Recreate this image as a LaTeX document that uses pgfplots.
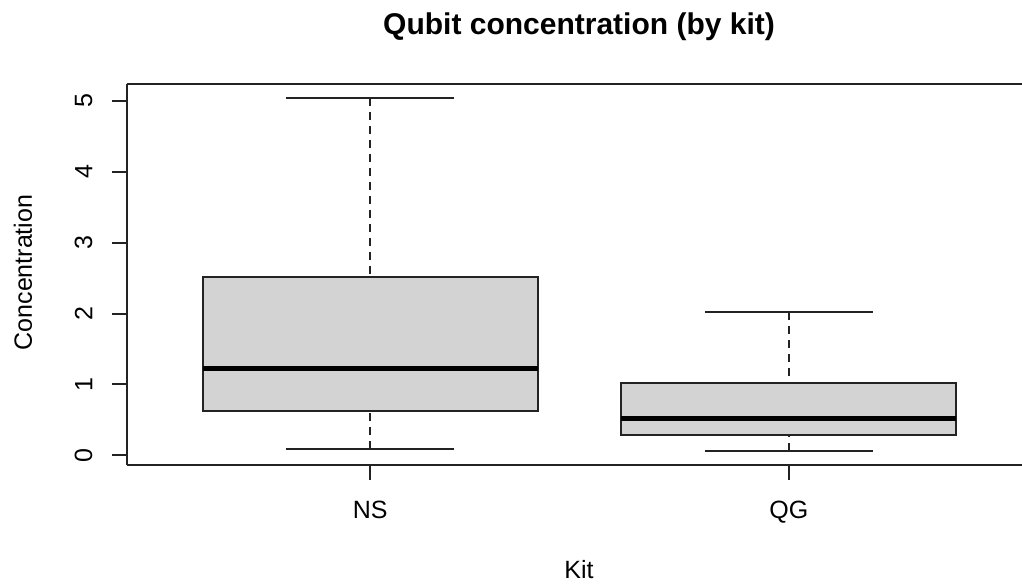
\documentclass[border=0pt]{standalone}
\usepackage{fontspec}
\setmainfont{Liberation Sans}
\usepackage{pgfplots}
\pgfplotsset{compat=1.18}
\usepgfplotslibrary{statistics}
\definecolor{boxgray}{RGB}{211,211,211}
\definecolor{lineg}{RGB}{35,35,35}

\pgfplotsset{
  boxplot/draw/median/.code={%
    \draw[line width=2.5pt, draw=black, fill=none]
      (boxplot box cs:\pgfplotsboxplotvalue{median},0) --
      (boxplot box cs:\pgfplotsboxplotvalue{median},1);
  },
  boxplot/draw/lower whisker/.code={%
    \draw[draw=lineg, line width=1pt, dash pattern=on 4pt off 3pt, fill=none]
      (boxplot box cs:\pgfplotsboxplotvalue{lower whisker},0.5) --
      (boxplot box cs:\pgfplotsboxplotvalue{lower quartile},0.5);
    \draw[draw=lineg, line width=1pt, fill=none]
      (boxplot whisker cs:\pgfplotsboxplotvalue{lower whisker},0) --
      (boxplot whisker cs:\pgfplotsboxplotvalue{lower whisker},1);
  },
  boxplot/draw/upper whisker/.code={%
    \draw[draw=lineg, line width=1pt, dash pattern=on 4pt off 3pt, fill=none]
      (boxplot box cs:\pgfplotsboxplotvalue{upper whisker},0.5) --
      (boxplot box cs:\pgfplotsboxplotvalue{upper quartile},0.5);
    \draw[draw=lineg, line width=1pt, fill=none]
      (boxplot whisker cs:\pgfplotsboxplotvalue{upper whisker},0) --
      (boxplot whisker cs:\pgfplotsboxplotvalue{upper whisker},1);
  },
}

\begin{document}
\begin{tikzpicture}
\useasboundingbox (-63.65pt,-60pt) rectangle (447.35pt,232.5pt);
\begin{axis}[
  at={(0pt,0pt)}, anchor=south west,
  scale only axis, width=447.35pt, height=190.5pt,
  xmin=0.42, xmax=2.557, ymin=-0.137, ymax=5.240,
  boxplot/draw direction=y,
  axis x line*=box, axis y line*=left,
  axis line style={-, draw=lineg, line width=1pt},
  xtick={1,2}, xticklabels={NS,QG},
  ytick={0,1,2,3,4,5},
  /pgf/number format/assume math mode=true,
  tick align=outside, tick pos=left,
  major tick length=7.5pt,
  major tick style={draw=lineg, line width=1pt},
  minor tick num=0,
  ticklabel style={font=\fontsize{12.5}{15}\selectfont, inner sep=0pt},
  xticklabel style={anchor=north},
  yticklabel style={rotate=90, anchor=south},
  xticklabel shift=10.35pt,
  yticklabel shift=9.75pt,
  title={Qubit concentration (by kit)},
  title style={font=\fontsize{15}{18}\selectfont\bfseries, at={(0.5049,1.0997)}, anchor=base, inner sep=0pt},
  xlabel={Kit},
  xlabel style={font=\fontsize{12.5}{15}\selectfont, at={(0.5049,-0.2756)}, anchor=center, inner sep=0pt},
  ylabel={Concentration},
  ylabel style={font=\fontsize{12.5}{15}\selectfont, at={(-0.1166,0.5052)}, anchor=center, inner sep=0pt},
]
\addplot[draw=lineg, fill=boxgray, line width=1pt,
  boxplot prepared={draw position=1, lower whisker=0.085, lower quartile=0.621,
    median=1.225, upper quartile=2.518, upper whisker=5.038,
    box extend=0.8, whisker extend=0.4}] coordinates {};
\addplot[draw=lineg, fill=boxgray, line width=1pt,
  boxplot prepared={draw position=2, lower whisker=0.066, lower quartile=0.292,
    median=0.513, upper quartile=1.021, upper whisker=2.024,
    box extend=0.8, whisker extend=0.4}] coordinates {};
\end{axis}
\end{tikzpicture}
\end{document}
